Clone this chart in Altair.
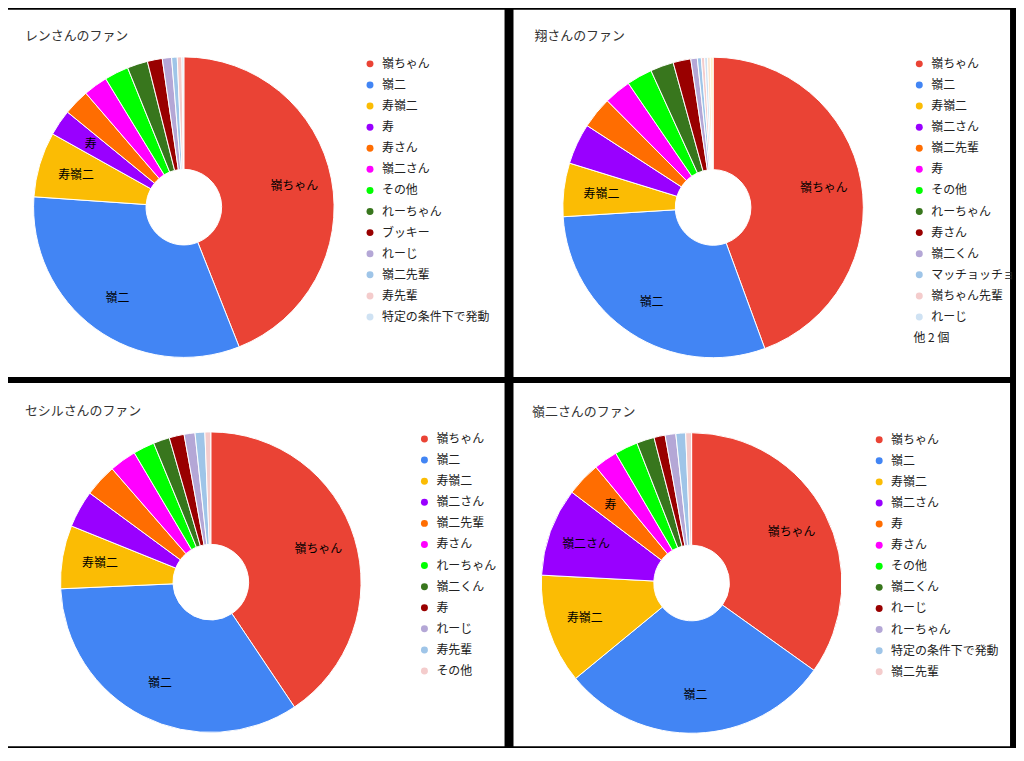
import altair as alt
import pandas as pd

FONT = "Noto Sans CJK JP"
PALETTE = ["#ea4335", "#4285f4", "#fbbc04", "#9900ff", "#ff6d01", "#ff00ff",
           "#00ff00", "#38761d", "#990000", "#b4a7d6", "#9fc5e8", "#f4cccc",
           "#cfe2f3", "#fce5cd", "#fff2cc"]

# --- レンさんのファン ---
ren_title = "レンさんのファン"
ren_names = ["嶺ちゃん", "嶺二", "寿嶺二", "寿", "寿さん", "嶺二さん", "その他",
             "れーちゃん", "ブッキー", "れーじ", "嶺二先輩", "寿先輩", "特定の条件下で発動"]
ren_values = [44.0, 32.1, 7.0, 2.8, 2.8, 2.6, 2.6, 2.2, 1.6, 1.0, 0.6, 0.5, 0.2]
ren_labeled = ["嶺ちゃん", "嶺二", "寿嶺二", "寿"]

# --- 翔さんのファン ---
sho_title = "翔さんのファン"
sho_names = ["嶺ちゃん", "嶺二", "寿嶺二", "嶺二さん", "嶺二先輩", "寿", "その他",
             "れーちゃん", "寿さん", "嶺二くん", "マッチョッチョ", "嶺ちゃん先輩", "れーじ",
             "他1", "他2"]
sho_values = [44.4, 29.6, 5.75, 4.4, 3.4, 2.9, 2.75, 2.5, 1.9, 0.7, 0.43, 0.35, 0.3, 0.3, 0.3]
sho_labeled = ["嶺ちゃん", "嶺二", "寿嶺二"]
sho_hidden = 2
sho_more = "他 2 個"

# --- セシルさんのファン ---
cec_title = "セシルさんのファン"
cec_names = ["嶺ちゃん", "嶺二", "寿嶺二", "嶺二さん", "嶺二先輩", "寿さん", "れーちゃん",
             "嶺二くん", "寿", "れーじ", "寿先輩", "その他"]
cec_values = [40.6, 33.7, 6.8, 4.0, 3.5, 2.9, 2.3, 1.75, 1.6, 1.17, 1.05, 0.63]
cec_labeled = ["嶺ちゃん", "嶺二", "寿嶺二"]

# --- 嶺二さんのファン ---
rei_title = "嶺二さんのファン"
rei_names = ["嶺ちゃん", "嶺二", "寿嶺二", "嶺二さん", "寿", "寿さん", "その他",
             "嶺二くん", "れーじ", "れーちゃん", "特定の条件下で発動", "嶺二先輩"]
rei_values = [34.9, 29.2, 11.8, 9.5, 3.7, 2.56, 2.5, 1.9, 1.2, 1.15, 1.05, 0.63]
rei_labeled = ["嶺ちゃん", "嶺二", "寿嶺二", "嶺二さん", "寿"]


def panel(title, names, values, labeled, cx, cy, lx, ly, tx, ty, w, h,
          hidden=0, more=None, mx=0, my=0):
    df = pd.DataFrame({"name": names, "value": values,
                       "order": list(range(len(names)))})
    df["label"] = [n if n in labeled else "" for n in names]
    base = alt.Chart(df)
    legend = alt.Legend(values=names[:len(names) - hidden], orient="none",
                        legendX=lx - 3.5, legendY=ly - 6, title=None,
                        symbolType="circle", symbolSize=49, symbolStrokeWidth=0,
                        labelFont=FONT, labelFontSize=12, labelColor="#222222",
                        labelOffset=6, rowPadding=9.2, padding=0)
    color = alt.Color("name:N", scale=alt.Scale(domain=names, range=PALETTE[:len(names)]),
                      legend=legend)
    theta = alt.Theta("value:Q", stack=True)
    arcs = base.mark_arc(innerRadius=38, outerRadius=151, stroke="white",
                         strokeWidth=1).encode(
        theta=theta, color=color, order=alt.Order("order:Q"),
        x=alt.value(cx), y=alt.value(cy))
    labels = base.mark_text(radius=113, font=FONT, fontSize=12, color="#000000").encode(
        theta=theta, order=alt.Order("order:Q"), text="label:N",
        x=alt.value(cx), y=alt.value(cy))
    ttl = alt.Chart(pd.DataFrame({"t": [title]})).mark_text(
        align="left", baseline="middle", font=FONT, fontSize=13, color="#333333").encode(
        x=alt.value(tx), y=alt.value(ty), text="t:N")
    layers = [arcs, labels, ttl]
    if more:
        layers.append(alt.Chart(pd.DataFrame({"t": [more]})).mark_text(
            align="left", baseline="middle", font=FONT, fontSize=12, color="#222222").encode(
            x=alt.value(mx), y=alt.value(my), text="t:N"))
    return alt.layer(*layers).properties(width=w, height=h)


# panel origins on the page: P1 (8,8), P2 (516,8), P3 (8,383), P4 (516,383)
p1 = panel(ren_title, ren_names, ren_values, ren_labeled,
           176.7, 198.3, 361.3, 54.3, 17, 26.3, 499, 369)
p2 = panel(sho_title, sho_names, sho_values, sho_labeled,
           200.6, 198.6, 405.3, 54.3, 21, 26.3, 499, 369,
           hidden=sho_hidden, more=sho_more, mx=402, my=330)
p3 = panel(cec_title, cec_names, cec_values, cec_labeled,
           203.8, 200.2, 416, 56.3, 17, 28, 499, 365)
p4 = panel(rei_title, rei_names, rei_values, rei_labeled,
           179, 201, 365, 57, 18.7, 28.7, 499, 365)

row1 = alt.hconcat(p1, p2, spacing=9).resolve_scale(color="independent", theta="independent")
row2 = alt.hconcat(p3, p4, spacing=9).resolve_scale(color="independent", theta="independent")
chart = alt.vconcat(row1, row2, spacing=6).resolve_scale(
    color="independent", theta="independent"
).properties(background="black", padding=0).configure_view(
    fill="white", strokeWidth=0
)

chart.save("out.html", embed_options={"renderer": "svg", "actions": False})
